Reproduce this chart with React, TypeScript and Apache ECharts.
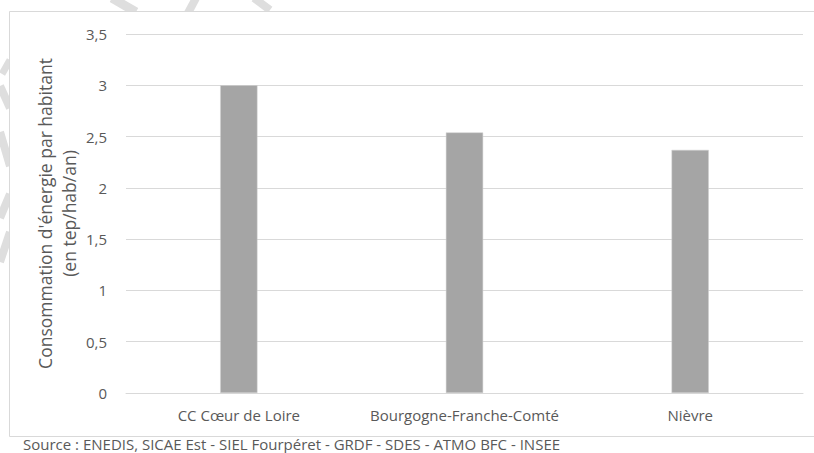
import React, { useEffect, useRef } from "react";
import * as echarts from "echarts";

const categories = ["CC Cœur de Loire", "Bourgogne-Franche-Comté", "Nièvre"];
const values = [3.0, 2.54, 2.37];
const yTicks = [0, 0.5, 1, 1.5, 2, 2.5, 3, 3.5];
const yAxisTitle = "Consommation d'énergie par habitant\n(en tep/hab/an)";
const sourceText = "Source : ENEDIS, SICAE Est - SIEL Fourpéret - GRDF - SDES - ATMO BFC - INSEE";

const wm = "#dedede";
const stroke = (x1: number, y1: number, x2: number, y2: number, w = 8) => ({
  type: "line",
  z: -10,
  silent: true,
  shape: { x1, y1, x2, y2 },
  style: { stroke: wm, lineWidth: w, lineCap: "butt" },
});

export default function App() {
  const ref = useRef<HTMLDivElement>(null);
  useEffect(() => {
    if (!ref.current) return;
    const chart = echarts.init(ref.current, null, { renderer: "svg" });
    chart.setOption({
      animation: false,
      backgroundColor: "#ffffff",
      textStyle: { fontFamily: "Open Sans" },
      grid: { left: 126, right: 11, top: 34, bottom: 60, containLabel: false },
      xAxis: {
        type: "category",
        data: categories,
        axisLine: { show: true, lineStyle: { color: "#d9d9d9", width: 1 } },
        axisTick: { show: false },
        axisLabel: { color: "#595959", fontSize: 15, margin: 14, interval: 0, fontFamily: "Open Sans" },
      },
      yAxis: {
        type: "value",
        min: yTicks[0],
        max: yTicks[yTicks.length - 1],
        interval: 0.5,
        name: yAxisTitle,
        nameLocation: "middle",
        nameRotate: 90,
        nameGap: 45,
        nameMoveOverlap: false,
        nameTextStyle: { color: "#595959", fontSize: 17.5, lineHeight: 24, fontFamily: "Open Sans" },
        axisLine: { show: false },
        axisTick: { show: false },
        splitLine: { lineStyle: { color: "#d9d9d9", width: 1 } },
        axisLabel: {
          color: "#595959",
          fontSize: 15,
          margin: 19,
          fontFamily: "Open Sans",
          formatter: (v: number) => String(v).replace(".", ","),
        },
      },
      series: [
        {
          type: "bar",
          data: values,
          barWidth: "16.5%",
          itemStyle: { color: "#a5a5a5", borderColor: "#d0d0d0", borderWidth: 0.5 },
        },
      ],
      graphic: [
        stroke(112, -2, 136, 12, 9),
        stroke(196, -2, 188, 13, 8),
        stroke(254, -2, 270, 10, 8),
        stroke(10, 60, 2, 74, 7),
        stroke(0, 86, 10, 108, 8),
        stroke(0, 132, 10, 166, 8),
        stroke(10, 194, 0, 218, 8),
        stroke(10, 232, 0, 262, 8),
        {
          type: "rect",
          z: -5,
          silent: true,
          shape: { x: 9.5, y: 11.5, width: 820, height: 425 },
          style: { fill: "#ffffff", stroke: "#d9d9d9", lineWidth: 1 },
        },
        {
          type: "text",
          left: 23,
          top: 436,
          style: { text: sourceText, fill: "#595959", fontSize: 15, lineHeight: 16, fontFamily: "Open Sans" },
        },
      ],
    });
    return () => chart.dispose();
  }, []);
  return (
    <div
      ref={ref}
      style={{ position: "fixed", left: 0, top: 0, width: 814, height: 453 }}
    />
  );
}
